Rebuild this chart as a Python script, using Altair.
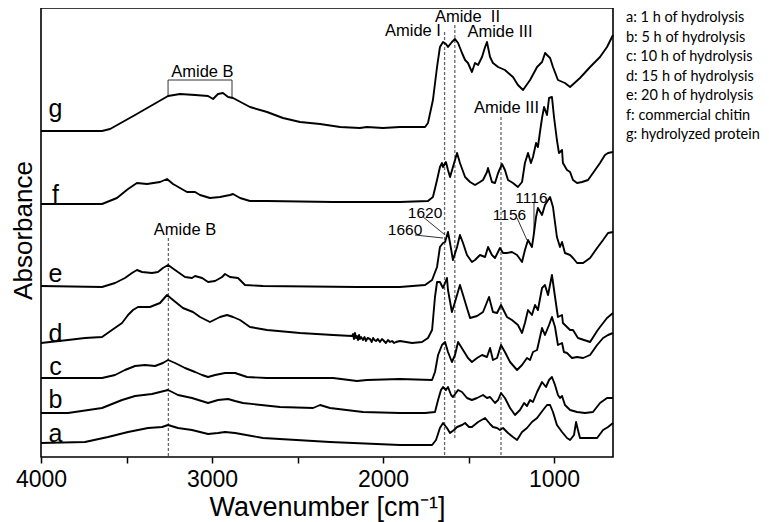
import altair as alt
import pandas as pd

# ---- spectra (wavenumber cm-1, absorbance in arbitrary offset units) ----
g_wn = [4000,3643,3596,3450,3257,3187,3099,3023,2994,2965,2936,2906,2877,2778,2678,2585,2485,2368,2251,2135,2094,2000,1901,1754,1737,1708,1684,1667,1649,1632,1620,1597,1579,1561,1538,1520,1503,1480,1462,1444,1421,1403,1392,1374,1357,1327,1287,1240,1211,1181,1140,1099,1070,1052,1041,1023,1006,977,936,906,848,789,731,690,655]
g_A = [326,326,328,342,361,363,362,361,358,363,364,360,359,350,345,339,335,333,330,329,330,329,330,330,334,357,390,410,415,413,410,415,418,414,404,397,394,385,394,392,400,410,415,400,394,390,387,380,372,367,377,390,395,404,402,399,390,377,374,370,379,390,400,410,422]

f_wn = [4000,3643,3556,3491,3439,3380,3304,3263,3228,3146,3099,3070,3012,2953,2895,2877,2836,2778,2678,2292,1901,1737,1708,1684,1667,1655,1649,1632,1620,1608,1591,1567,1550,1520,1491,1462,1433,1415,1392,1386,1363,1345,1327,1304,1287,1269,1240,1211,1187,1170,1152,1135,1123,1105,1094,1082,1070,1058,1041,1029,1012,1000,983,971,953,948,924,906,889,865,836,801,772,731,702,684,655]
f_A = [253,253,259,268,274,273,275,278,273,265,265,262,259,260,262,263,259,256,256,255,255,256,260,277,290,294,290,295,287,280,290,304,294,280,275,272,275,277,285,289,275,274,284,293,287,277,274,270,275,294,304,294,300,314,310,325,339,350,342,359,360,340,317,304,307,294,287,285,277,274,275,277,284,294,302,304,305]

e_wn = [4000,3643,3567,3509,3468,3439,3409,3351,3316,3287,3257,3216,3158,3117,3099,3058,3023,2982,2941,2924,2895,2848,2807,2702,2152,1901,1754,1713,1684,1667,1649,1637,1620,1608,1591,1567,1550,1532,1509,1480,1462,1433,1403,1386,1363,1345,1316,1298,1275,1246,1216,1187,1170,1152,1129,1117,1105,1094,1070,1053,1023,1006,983,965,953,936,906,889,865,830,789,748,713,684,655]
e_A = [171,170,174,179,184,187,185,184,185,189,192,187,180,179,181,179,175,176,180,183,180,179,172,171,170,170,172,177,190,210,214,215,225,214,197,210,222,214,202,195,197,202,200,210,202,199,209,204,204,205,202,195,207,217,210,224,240,249,242,252,260,250,220,210,215,204,202,199,194,194,199,209,217,224,225]

d_wn = [4000,3842,3743,3643,3585,3526,3491,3462,3433,3363,3304,3263,3228,3170,3111,3070,3012,2953,2912,2877,2836,2778,2678,2485,2292,2181,2175,2170,2164,2158,2152,2146,2140,2135,2128,2117,2108,2100,2090,2076,2066,2058,2050,2041,2030,2018,2006,1994,1983,1971,1959,1947,1935,1924,1901,1830,1772,1737,1713,1696,1684,1667,1649,1626,1620,1597,1579,1550,1532,1509,1491,1450,1415,1380,1357,1333,1310,1275,1246,1211,1187,1170,1152,1129,1111,1094,1070,1053,1035,1012,994,977,953,948,906,889,860,789,748,731,690,655]
d_A = [114,117,119,120,127,134,142,147,150,150,154,162,157,149,145,140,135,140,142,140,137,130,127,124,122,121,123,118,124,119,121,117,122,118,120,117,120,116,119,118,115,119,117,116,118,115,118,116,114,117,115,116,114,115,116,114,115,119,127,160,175,175,169,179,167,145,155,172,162,149,139,141,145,160,145,144,152,140,137,132,124,134,147,142,152,147,169,172,162,182,160,140,142,134,127,127,119,115,126,130,139,144]

c_wn = [4000,3842,3643,3567,3509,3450,3392,3333,3287,3257,3216,3158,3099,3058,3023,2982,2924,2865,2795,2678,2292,2152,2094,1901,1713,1696,1678,1655,1637,1620,1597,1579,1561,1532,1503,1480,1450,1421,1392,1374,1357,1333,1310,1287,1257,1216,1187,1158,1140,1123,1099,1070,1053,1029,1012,994,977,953,942,924,895,865,830,789,748,713,684,655]
c_A = [79,79,79,82,87,91,92,91,94,97,94,89,85,82,80,82,84,84,80,79,79,76,77,78,77,85,102,112,115,105,95,102,115,107,99,95,99,102,100,109,97,99,112,105,95,87,92,99,97,105,107,129,122,132,140,130,112,114,105,104,99,100,99,102,112,119,122,124]

b_wn = [4000,3842,3643,3526,3450,3351,3257,3199,3117,3023,2965,2906,2865,2819,2602,2409,2368,2310,2117,1901,1754,1696,1678,1661,1649,1632,1620,1602,1591,1561,1538,1509,1480,1450,1415,1392,1374,1345,1327,1310,1287,1257,1228,1199,1175,1158,1140,1123,1099,1070,1047,1029,1012,994,977,965,953,936,906,865,819,772,731,690,655]
b_A = [44,44,49,57,61,63,67,62,59,54,57,58,56,54,50,49,52,49,45,44,44,45,57,67,70,67,70,62,60,67,65,59,57,59,62,59,60,54,57,64,59,49,42,47,54,51,57,55,65,75,70,77,80,72,62,59,61,52,47,45,44,45,54,59,59]

a_wn = [4000,3743,3608,3491,3374,3292,3257,3199,3117,3023,2965,2924,2865,2702,2310,1901,1713,1690,1667,1649,1626,1608,1585,1567,1538,1520,1497,1480,1444,1403,1374,1357,1333,1316,1298,1269,1240,1216,1187,1158,1129,1099,1064,1041,1023,1006,983,953,924,906,883,871,860,848,789,748,713,684,655]
a_A = [14,15,20,25,29,30,32,29,27,23,24,25,24,19,15,12,12,17,29,34,29,24,27,30,32,34,30,30,35,39,33,30,29,27,29,24,20,17,25,29,35,39,47,52,52,45,32,25,19,17,22,35,27,19,19,19,27,30,34]

series = [("a", a_wn, a_A), ("b", b_wn, b_A), ("c", c_wn, c_A), ("d", d_wn, d_A),
          ("e", e_wn, e_A), ("f", f_wn, f_A), ("g", g_wn, g_A)]

# ---- annotations ----
curve_labels = ["g", "f", "e", "d", "c", "b", "a"]
curve_label_wn = [3915] * 7
curve_label_A = [340, 254, 175, 115, 82, 49, 15]

band_labels = ["Amide B", "Amide B", "Amide I", "Amide\u00a0 II", "Amide III", "Amide III"]
band_label_wn = [3056, 3158, 1825, 1506, 1316, 1278]
band_label_A = [380, 222, 421, 435, 420, 344]

peak_labels = ["1620", "1660", "1116", "1156"]
peak_label_wn = [1754, 1871, 1132, 1260]
peak_label_A = [239, 222, 254, 237]

# dashed band markers
dash_wn = [3255, 1640, 1580, 1310]
dash_top = [219, 425, 432, 340]
dash_bottom = [0, 0, 17, 0]

# bracket over Amide B and leader lines
seg_wn1 = [3257, 3257, 2883, 1765, 1813, 1216, 1117]
seg_wn2 = [3257, 2883, 2883, 1637, 1649, 1158, 1117]
seg_A1 = [360, 377, 377, 240, 222, 239, 254]
seg_A2 = [377, 377, 359, 222, 219, 217, 224]

legend_lines = ["a: 1 h of hydrolysis", "b: 5 h of hydrolysis", "c: 10 h of hydrolysis",
                "d: 15 h of hydrolysis", "e: 20 h of hydrolysis", "f: commercial chitin",
                "g: hydrolyzed protein"]

# ---- build tables ----
rows = []
for s, wn, A in series:
    for w, v in zip(wn, A):
        rows.append({"s": s, "wn": w, "A": v})
curves = pd.DataFrame(rows)

FONT = "Liberation Sans"
xs = alt.Scale(domain=[4000, 655], nice=False, zero=False)
ys = alt.Scale(domain=[0, 449], nice=False, zero=False)

xaxis = alt.Axis(values=[4000, 3500, 3000, 2500, 2000, 1500, 1000], format="d",
                 labelExpr="datum.value % 1000 == 0 ? datum.label : ''",
                 labelFontSize=23, labelFont=FONT, labelColor="black",
                 labelBaseline="alphabetic", labelPadding=23,
                 labelFlush=False, labelOverlap=False,
                 tickColor="black", tickSize=6, tickWidth=1.5, domain=False, grid=False,
                 title="Wavenumber [cm\u207b\u00b9]", titleFont=FONT, titleFontSize=27,
                 titleFontWeight="normal", titleColor="black", titleBaseline="alphabetic",
                 titleY=58)
yaxis = alt.Axis(labels=False, ticks=False, domain=False, grid=False,
                 title="Absorbance", titleFont=FONT, titleFontSize=26,
                 titleFontWeight="normal", titleColor="black", titleAngle=270,
                 titleBaseline="alphabetic", titleX=-10, titleY=222, titleAlign="center")


def X(f="wn"):
    return alt.X(f"{f}:Q", scale=xs, axis=xaxis)


def Y(f="A"):
    return alt.Y(f"{f}:Q", scale=ys, axis=yaxis)


lines = alt.Chart(curves).mark_line(color="black", strokeWidth=1.9, strokeJoin="round").encode(
    x=X(), y=Y(), detail="s:N")

dash_df = pd.DataFrame({"wn": dash_wn, "A": dash_top, "A2": dash_bottom})
dashes = alt.Chart(dash_df).mark_rule(color="#666", strokeWidth=1.3, strokeDash=[3, 2]).encode(
    x=X(), y=Y(), y2="A2:Q")

seg_df = pd.DataFrame({"wn": seg_wn1, "wn2": seg_wn2, "A": seg_A1, "A2": seg_A2})
segs = alt.Chart(seg_df).mark_rule(color="#333", strokeWidth=1).encode(
    x=X(), x2="wn2:Q", y=Y(), y2="A2:Q")

cl_df = pd.DataFrame({"t": curve_labels, "wn": curve_label_wn, "A": curve_label_A})
clabels = alt.Chart(cl_df).mark_text(font=FONT, fontSize=25, align="center",
                                      baseline="alphabetic", color="black").encode(
    x=X(), y=Y(), text="t:N")

bl_df = pd.DataFrame({"t": band_labels, "wn": band_label_wn, "A": band_label_A})
blabels = alt.Chart(bl_df).mark_text(font=FONT, fontSize=16.5, align="center",
                                      baseline="alphabetic", color="black").encode(
    x=X(), y=Y(), text="t:N")

pl_df = pd.DataFrame({"t": peak_labels, "wn": peak_label_wn, "A": peak_label_A})
plabels = alt.Chart(pl_df).mark_text(font=FONT, fontSize=15.5, align="center",
                                      baseline="alphabetic", color="black").encode(
    x=X(), y=Y(), text="t:N")

legend = alt.Chart(pd.DataFrame({"k": [0]})).mark_text(
    text=legend_lines, font="Lato", fontSize=14.5, lineHeight=19.5, align="left",
    baseline="alphabetic", color="black").encode(x=alt.value(585), y=alt.value(14))

chart = alt.layer(dashes, segs, lines, clabels, blabels, plabels, legend).properties(
    width=572, height=449,
    autosize=alt.AutoSizeParams(type="none"),
    padding={"left": 33, "top": 0, "right": 148, "bottom": 65},
    background="white",
).configure_view(stroke="black", strokeWidth=1.6)

chart.save("out.html", embed_options={"renderer": "svg", "actions": False})
